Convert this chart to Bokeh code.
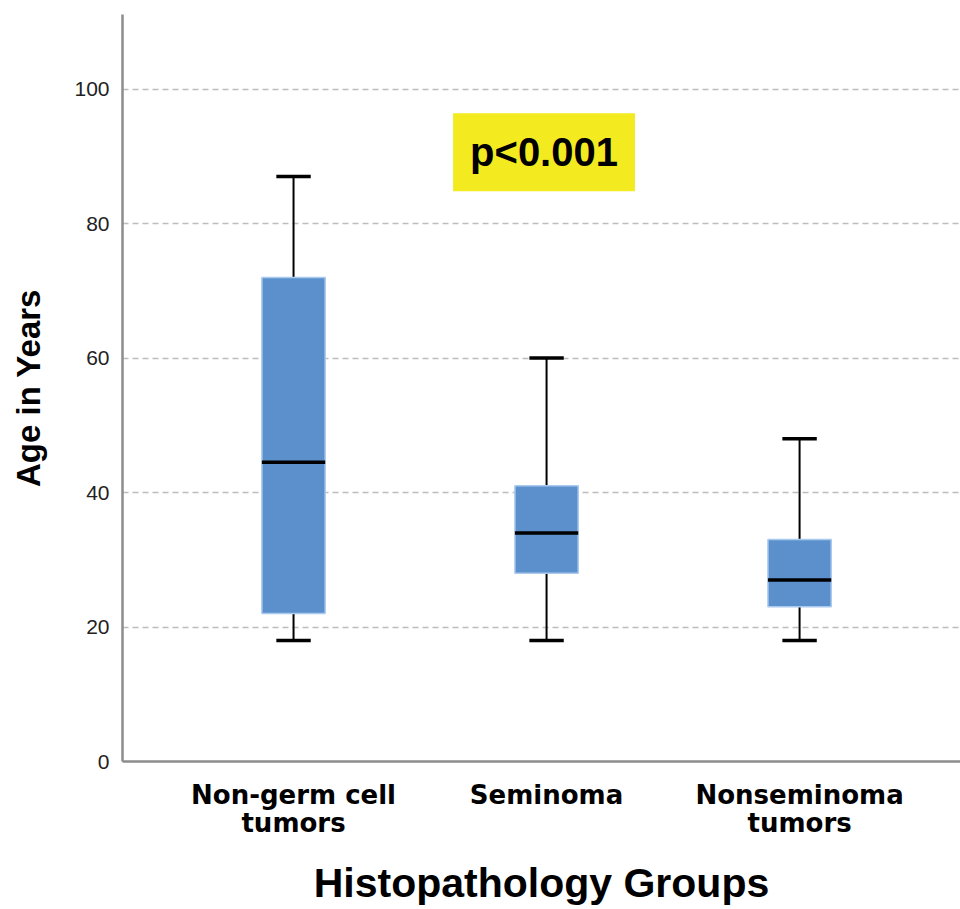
from bokeh.plotting import figure
from bokeh.models import Range1d, FixedTicker, Label, ColumnDataSource
from bokeh.embed import file_html
from bokeh.resources import INLINE

categories = ["Non-germ cell\ntumors", "Seminoma", "Nonseminoma\ntumors"]
lower = [18, 18, 18]
q1 = [22, 28, 23]
median = [44.5, 34, 27]
q3 = [72, 41, 33]
upper = [87, 60, 48]
y_ticks = [0, 20, 40, 60, 80, 100]
p_text = "p<0.001"

xs = [i + 1 for i in range(len(categories))]
src = ColumnDataSource(dict(x=xs, lower=lower, q1=q1, median=median, q3=q3, upper=upper))

p = figure(width=960, height=909, output_backend="svg", toolbar_location=None,
           x_range=Range1d(0.324, 3.636), y_range=Range1d(0, 111.1),
           min_border_left=122, min_border_right=0, min_border_top=14, min_border_bottom=147)
p.outline_line_color = None
p.background_fill_color = "white"

# grid
p.xgrid.grid_line_color = None
p.ygrid.ticker = FixedTicker(ticks=y_ticks[1:])
p.ygrid.grid_line_color = "#bdbdbd"
p.ygrid.grid_line_dash = "6 4"
p.ygrid.grid_line_width = 1.5

# whiskers
p.segment(x0="x", y0="q3", x1="x", y1="upper", source=src, line_color="black", line_width=2)
p.segment(x0="x", y0="lower", x1="x", y1="q1", source=src, line_color="black", line_width=2)
cap = 0.068
p.segment(x0=[x - cap for x in xs], y0=upper, x1=[x + cap for x in xs], y1=upper,
          line_color="black", line_width=3.5)
p.segment(x0=[x - cap for x in xs], y0=lower, x1=[x + cap for x in xs], y1=lower,
          line_color="black", line_width=3.5)
# boxes
p.vbar(x="x", width=0.25, bottom="q1", top="q3", source=src,
       fill_color="#5b90cd", line_color="#a9c9ee", line_width=1.5)
# medians
p.segment(x0=[x - 0.125 for x in xs], y0=median, x1=[x + 0.125 for x in xs], y1=median,
          line_color="black", line_width=3.5)

# axes
p.xaxis.ticker = FixedTicker(ticks=xs)
p.xaxis.major_label_overrides = {x: c for x, c in zip(xs, categories)}
p.yaxis.ticker = FixedTicker(ticks=y_ticks)
for ax in (p.xaxis[0], p.yaxis[0]):
    ax.axis_line_color = "#8c8c8c"
    ax.axis_line_width = 2.5
    ax.major_tick_line_color = None
    ax.minor_tick_line_color = None
    ax.axis_label_text_font = "Liberation Sans"
    ax.axis_label_text_font_style = "bold"
    ax.axis_label_text_color = "black"

p.xaxis.major_label_text_font = "DejaVu Sans"
p.xaxis.major_label_text_font_style = "bold"
p.xaxis.major_label_text_font_size = "26px"
p.xaxis.major_label_text_line_height = 0.95
p.xaxis.major_label_text_color = "black"
p.xaxis.major_label_standoff = 12
p.xaxis.axis_label = "Histopathology Groups"
p.xaxis.axis_label_text_font_size = "41px"
p.xaxis.axis_label_standoff = 19

p.yaxis.major_label_text_font = "Liberation Sans"
p.yaxis.major_label_text_font_size = "21px"
p.yaxis.major_label_text_color = "#222222"
p.yaxis.major_label_standoff = 7
p.yaxis.axis_label = "Age in Years"
p.yaxis.axis_label_text_font_size = "33px"
p.yaxis.axis_label_standoff = 24

lab = Label(x=1.99, y=90.6, text=p_text, text_align="center", text_baseline="middle",
            text_font="Liberation Sans", text_font_style="bold", text_font_size="40px",
            text_color="black", background_fill_color="#f3ea1f", padding=17)
p.add_layout(lab)

open("out.html", "w").write(file_html(p, INLINE))
